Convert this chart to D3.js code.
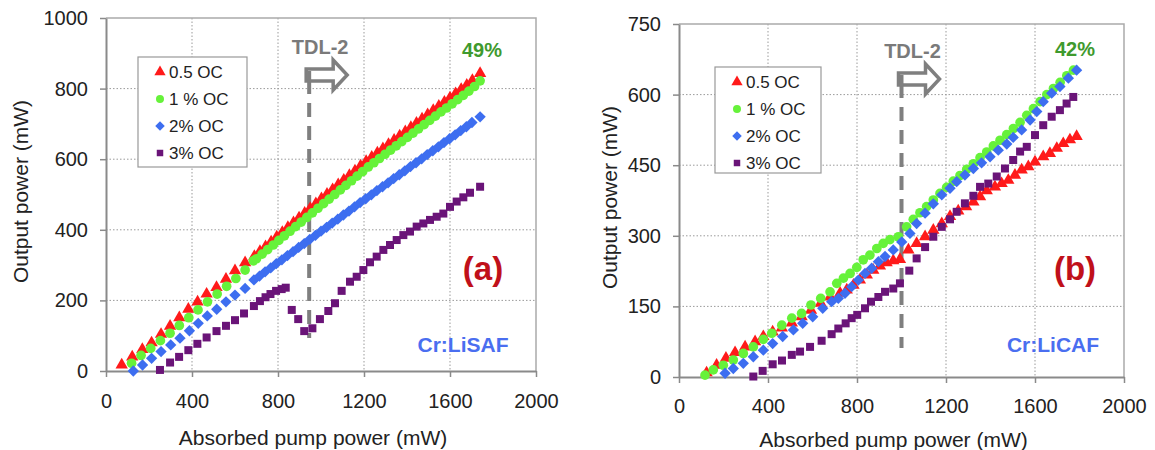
<!DOCTYPE html>
<html>
<head>
<meta charset="utf-8">
<script src="https://cdn.jsdelivr.net/npm/d3@7"></script>
<style>
  body { margin: 0; background: #fff; }
  svg { font-family: "Liberation Sans", Arial, sans-serif; }
</style>
</head>
<body>
<svg id="chart" width="1155" height="450"></svg>
<script>
// ---- data ----
var xTicks = [0, 400, 800, 1200, 1600, 2000];
var yTicksA = [0, 200, 400, 600, 800, 1000];
var yTicksB = [0, 150, 300, 450, 600, 750];
var seriesNames = ["0.5 OC", "1 % OC", "2% OC", "3% OC"];

// (a) Cr:LiSAF  [absorbed pump mW, output mW]
var lisaf05 = [[73,17],[122,40],[169,61],[212,80],[256,104],[298,127],[341,151],[383,175],[426,196],[468,218],[514,237],[558,260],[600,284],[647,307],[690,325],[716,339],[742,352],[768,366],[794,380],[820,393],[846,407],[872,420],[898,434],[924,447],[950,461],[976,474],[1002,488],[1028,501],[1054,514],[1080,528],[1106,541],[1132,554],[1158,567],[1184,581],[1210,594],[1236,606],[1262,618],[1288,630],[1314,642],[1340,654],[1366,666],[1392,678],[1418,690],[1444,702],[1470,714],[1496,726],[1522,738],[1548,750],[1574,762],[1600,774],[1626,786],[1652,798],[1678,810],[1704,823],[1740,843]];
var lisaf1 = [[119,22],[163,44],[208,64],[253,86],[298,107],[341,129],[385,151],[428,173],[472,196],[517,218],[561,240],[604,262],[647,286],[685,312],[700,318],[726,331],[752,344],[778,357],[804,370],[830,383],[856,396],[882,409],[908,422],[934,435],[960,448],[986,461],[1012,474],[1038,487],[1064,500],[1090,513],[1116,526],[1142,539],[1168,552],[1194,565],[1220,578],[1246,590],[1272,602],[1298,614],[1324,626],[1350,638],[1376,650],[1402,662],[1428,674],[1454,686],[1480,698],[1506,710],[1532,722],[1558,734],[1584,745],[1610,757],[1636,769],[1662,781],[1688,793],[1714,806],[1740,822]];
var lisaf2 = [[127,0],[170,17],[212,36],[256,55],[301,74],[344,93],[388,114],[429,135],[471,156],[515,175],[558,196],[600,215],[647,234],[688,258],[714,269],[740,281],[766,292],[792,304],[818,315],[844,327],[870,338],[896,350],[922,361],[948,373],[974,384],[1000,396],[1026,407],[1052,419],[1078,430],[1104,442],[1130,453],[1156,465],[1182,477],[1208,488],[1234,499],[1260,511],[1286,522],[1312,533],[1338,545],[1364,556],[1390,567],[1416,579],[1442,590],[1468,601],[1494,613],[1520,624],[1546,635],[1572,647],[1598,658],[1624,669],[1650,681],[1676,692],[1702,704],[1740,720]];
var lisaf3 = [[251,3],[298,24],[340,40],[383,59],[425,77],[468,95],[514,113],[558,128],[600,144],[642,163],[688,184],[716,198],[742,209],[765,218],[791,227],[817,232],[836,236],[864,173],[894,147],[922,113],[960,121],[995,147],[1034,170],[1065,192],[1096,227],[1135,253],[1166,267],[1197,286],[1228,308],[1259,324],[1290,343],[1321,357],[1352,371],[1383,385],[1414,395],[1445,409],[1476,418],[1507,428],[1538,437],[1569,446],[1600,465],[1631,480],[1662,492],[1693,505],[1740,522]];

// (b) Cr:LiCAF
var licaf05 = [[124,9],[169,25],[211,40],[252,52],[297,64],[342,75],[379,86],[421,96],[462,104],[507,115],[551,128],[593,142],[637,157],[679,170],[724,178],[754,185],[784,195],[813,206],[844,217],[873,227],[903,236],[933,243],[963,247],[993,250],[1031,270],[1068,284],[1106,298],[1143,312],[1181,326],[1218,341],[1255,353],[1290,362],[1323,372],[1353,383],[1383,396],[1420,404],[1450,411],[1480,418],[1510,429],[1540,440],[1570,447],[1600,457],[1637,468],[1667,475],[1698,486],[1727,496],[1757,504],[1787,511]];
var licaf1 = [[117,4],[154,15],[199,25],[244,36],[289,50],[334,64],[379,80],[417,93],[462,110],[507,125],[551,135],[593,153],[637,167],[679,181],[709,199],[739,210],[769,220],[799,233],[828,249],[858,259],[889,273],[918,284],[948,292],[986,298],[1023,319],[1053,335],[1083,349],[1113,362],[1143,376],[1173,390],[1203,403],[1233,416],[1263,428],[1293,441],[1323,453],[1353,466],[1383,478],[1413,491],[1443,503],[1473,515],[1503,528],[1533,541],[1563,556],[1593,570],[1623,585],[1653,600],[1683,613],[1713,626],[1743,640],[1773,652]];
var licaf2 = [[207,8],[244,18],[289,29],[334,43],[379,57],[421,71],[466,86],[514,100],[556,114],[601,128],[646,146],[686,160],[716,167],[746,178],[776,192],[806,206],[836,220],[866,231],[896,245],[926,256],[963,270],[1001,287],[1038,305],[1068,326],[1106,348],[1143,368],[1181,387],[1218,401],[1248,415],[1285,429],[1323,443],[1360,455],[1398,468],[1435,482],[1473,495],[1502,509],[1540,525],[1578,546],[1608,564],[1637,585],[1675,603],[1712,617],[1750,635],[1787,652]];
var licaf3 = [[334,1],[376,13],[421,27],[463,35],[507,47],[544,54],[589,64],[641,77],[686,91],[716,103],[749,114],[776,125],[801,132],[836,146],[863,160],[896,170],[926,181],[963,188],[993,199],[1035,226],[1068,252],[1106,276],[1143,298],[1181,319],[1218,335],[1248,351],[1285,369],[1323,385],[1353,404],[1390,411],[1428,426],[1465,443],[1502,461],[1533,479],[1563,489],[1600,514],[1637,535],[1675,553],[1712,567],[1742,581],[1772,595]];

var colors = ["#ff1a1a", "#66f23a", "#3d6ef0", "#6a1478"];
var symbols = [d3.symbolTriangle, d3.symbolCircle, d3.symbolSquare, d3.symbolSquare];
var sizes = [66, 74, 64, 64];
var rot = [0, 0, 45, 0];

var svg = d3.select("#chart");

function panel(o) {
  var x = d3.scaleLinear().domain([0, 2000]).range([o.left, o.right]);
  var y = d3.scaleLinear().domain([0, o.ymax]).range([o.bottom, o.top]);
  var g = svg.append("g");

  // dotted grid
  g.append("g").selectAll("line").data(xTicks.slice(1, -1)).enter().append("line")
    .attr("x1", d => x(d)).attr("x2", d => x(d)).attr("y1", o.top).attr("y2", o.bottom)
    .attr("stroke", "#9a9a9a").attr("stroke-dasharray", "1.5,2");
  g.append("g").selectAll("line").data(o.yTicks.slice(1, -1)).enter().append("line")
    .attr("y1", d => y(d)).attr("y2", d => y(d)).attr("x1", o.left).attr("x2", o.right)
    .attr("stroke", "#9a9a9a").attr("stroke-dasharray", "1.5,2");

  // frame top/right
  g.append("path").attr("d", "M" + o.left + "," + o.top + "H" + o.right + "V" + o.bottom)
    .attr("fill", "none").attr("stroke", "#aaa").attr("stroke-width", 1.5);

  var ax = g.append("g").attr("transform", "translate(0," + o.bottom + ")")
    .call(d3.axisBottom(x).tickValues(xTicks).tickFormat(d3.format("d")).tickSize(6).tickSizeOuter(0).tickPadding(o.xpad));
  var ay = g.append("g").attr("transform", "translate(" + o.left + ",0)")
    .call(d3.axisLeft(y).tickValues(o.yTicks).tickFormat(d3.format("d")).tickSize(6).tickSizeOuter(0).tickPadding(12));
  [ax, ay].forEach(function (a) {
    a.select(".domain").attr("stroke", "#8a8a8a").attr("stroke-width", 2);
    a.selectAll(".tick line").attr("stroke", "#8a8a8a").attr("stroke-width", 1.5);
    a.selectAll("text").attr("font-size", 20).attr("fill", "#222")
      .attr("font-family", "Liberation Sans, Arial, sans-serif");
  });

  // axis titles
  g.append("text").attr("x", (o.left + o.right) / 2 - 8).attr("y", o.xtitleY)
    .attr("text-anchor", "middle").attr("font-size", 21).attr("fill", "#222")
    .text("Absorbed pump power (mW)");
  g.append("text").attr("transform", "translate(" + o.ytitleX + "," + ((o.top + o.bottom) / 2 - 3) + ") rotate(-90)")
    .attr("text-anchor", "middle").attr("font-size", 21).attr("fill", "#222")
    .text("Output power (mW)");

  // TDL-2 marker: dashed line + hollow arrow
  var lx = x(o.tdl);
  g.append("line").attr("x1", lx).attr("x2", lx).attr("y1", o.dashTop).attr("y2", o.dashBottom)
    .attr("stroke", "#7f7f7f").attr("stroke-width", 4).attr("stroke-dasharray", "14,9");
  var ay0 = o.arrowY;
  g.append("path")
    .attr("d", "M" + (lx - 3) + "," + (ay0 + 6) + "H" + (lx + 24) + "V" + (ay0 + 15) + "L" + (lx + 38) + "," + ay0 +
      "L" + (lx + 24) + "," + (ay0 - 15) + "V" + (ay0 - 6) + "H" + (lx - 3) + "Z")
    .attr("fill", "#fff").attr("stroke", "#7f7f7f").attr("stroke-width", 3.5).attr("stroke-linejoin", "miter");
  g.append("line").attr("x1", lx).attr("x2", lx).attr("y1", ay0 - 4).attr("y2", o.dashTop + 2)
    .attr("stroke", "#7f7f7f").attr("stroke-width", 4);
  g.append("text").attr("x", lx + 11).attr("y", ay0 - 21).attr("text-anchor", "middle")
    .attr("font-size", 20).attr("font-weight", "bold").attr("fill", "#7a7a7a").text("TDL-2");

  // data
  o.series.forEach(function (s, i) {
    g.append("g").selectAll("path").data(s).enter().append("path")
      .attr("d", d3.symbol().type(symbols[i]).size(sizes[i]))
      .attr("transform", d => "translate(" + x(d[0]) + "," + y(d[1]) + ") rotate(" + rot[i] + ")")
      .attr("fill", colors[i]);
  });

  // legend
  var lg = g.append("g");
  lg.append("rect").attr("x", o.leg[0]).attr("y", o.leg[1]).attr("width", o.leg[2]).attr("height", o.leg[3])
    .attr("fill", "#fff").attr("stroke", "#999").attr("stroke-width", 1.2);
  seriesNames.forEach(function (n, i) {
    var cy = o.leg[1] + 15 + i * 27;
    var mx = o.leg[0] + 22;
    lg.append("path").attr("d", d3.symbol().type(symbols[i]).size([55, 50, 45, 42][i]))
      .attr("transform", "translate(" + mx + "," + cy + ") rotate(" + rot[i] + ")")
      .attr("fill", colors[i]);
    lg.append("text").attr("x", mx + 9).attr("y", cy + 6).attr("font-size", 17).attr("fill", "#222").text(n);
  });

  // annotations
  g.append("text").attr("x", o.pct[0]).attr("y", o.pct[1]).attr("text-anchor", "middle")
    .attr("font-size", 20).attr("font-weight", "bold").attr("fill", "#3f9a2e").text(o.pctText);
  g.append("text").attr("x", o.tag[0]).attr("y", o.tag[1]).attr("text-anchor", "middle")
    .attr("font-size", 33).attr("font-weight", "bold").attr("fill", "#c0101a").text(o.tagText);
  g.append("text").attr("x", o.cr[0]).attr("y", o.cr[1]).attr("text-anchor", "middle")
    .attr("font-size", 21).attr("font-weight", "bold").attr("fill", "#4a6ef0").text(o.crText);
}

panel({
  left: 106, right: 536, top: 18, bottom: 371, ymax: 1000, yTicks: yTicksA,
  xpad: 17, xtitleY: 445, ytitleX: 28,
  tdl: 945, dashTop: 80, dashBottom: 338, arrowY: 75,
  series: [lisaf05, lisaf1, lisaf2, lisaf3],
  leg: [138, 57, 109, 110],
  pct: [482, 57], pctText: "49%",
  tag: [483, 280], tagText: "(a)",
  cr: [463, 352], crText: "Cr:LiSAF"
});

panel({
  left: 679, right: 1124, top: 24, bottom: 377, ymax: 750, yTicks: yTicksB,
  xpad: 16, xtitleY: 447, ytitleX: 617,
  tdl: 1000, dashTop: 84, dashBottom: 348, arrowY: 79,
  series: [licaf05, licaf1, licaf2, licaf3],
  leg: [715, 67, 106, 106],
  pct: [1075, 56], pctText: "42%",
  tag: [1075, 280], tagText: "(b)",
  cr: [1053, 352], crText: "Cr:LiCAF"
});
</script>
</body>
</html>
